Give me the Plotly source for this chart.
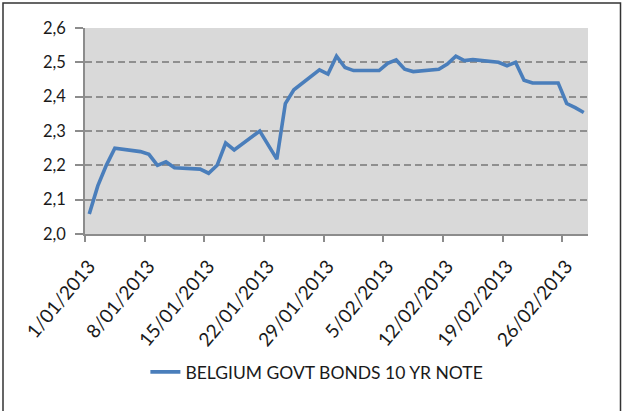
import pandas as pd
import plotly.graph_objects as go

# Daily closing yield, trading days only
dates = [
    "2013-01-01", "2013-01-02", "2013-01-03", "2013-01-04",
    "2013-01-07", "2013-01-08", "2013-01-09", "2013-01-10", "2013-01-11",
    "2013-01-14", "2013-01-15", "2013-01-16", "2013-01-17", "2013-01-18",
    "2013-01-21", "2013-01-22", "2013-01-23", "2013-01-24", "2013-01-25",
    "2013-01-28", "2013-01-29", "2013-01-30", "2013-01-31", "2013-02-01",
    "2013-02-04", "2013-02-05", "2013-02-06", "2013-02-07", "2013-02-08",
    "2013-02-11", "2013-02-12", "2013-02-13", "2013-02-14", "2013-02-15",
    "2013-02-18", "2013-02-19", "2013-02-20", "2013-02-21", "2013-02-22",
    "2013-02-25", "2013-02-26", "2013-02-27", "2013-02-28",
]
yields = [
    2.058, 2.14, 2.20, 2.25,
    2.24, 2.232, 2.20, 2.21, 2.193,
    2.189, 2.177, 2.20, 2.265, 2.245,
    2.30, 2.26, 2.218, 2.38, 2.42,
    2.478, 2.466, 2.518, 2.485, 2.476,
    2.476, 2.497, 2.507, 2.48, 2.473,
    2.48, 2.495, 2.518, 2.505, 2.508,
    2.50, 2.49, 2.50, 2.448, 2.44,
    2.44, 2.38, 2.368, 2.354,
]
series_name = "BELGIUM GOVT BONDS 10 YR NOTE"

tick_dates = pd.date_range("2013-01-01", "2013-02-26", freq="7D")
tick_labels = [f"{d.day}/{d.month:02d}/{d.year}" for d in tick_dates]
y_ticks = [2.0, 2.1, 2.2, 2.3, 2.4, 2.5, 2.6]

# each day occupies a slot; values sit in the middle of their day
x_vals = pd.to_datetime(dates) + pd.Timedelta(hours=12)

fig = go.Figure()
fig.add_trace(go.Scatter(
    x=x_vals, y=yields, mode="lines", name=series_name,
    line=dict(color="#4A7EBB", width=3.6),
    showlegend=True,
))

family = "Lato, Open Sans, sans-serif"
ink = "#1a1a1a"

fig.update_layout(
    width=622, height=411,
    margin=dict(l=85, r=34, t=28, b=177),
    paper_bgcolor="white",
    plot_bgcolor="#d9d9d9",
    separators=", ",
    font=dict(family=family, size=16, color=ink),
    showlegend=True,
    legend=dict(
        orientation="h", x=0.461, y=-0.67, xanchor="center", yanchor="middle",
        font=dict(family=family, size=17.5, color=ink),
        bgcolor="rgba(0,0,0,0)",
    ),
    xaxis=dict(
        type="date",
        range=["2013-01-01", "2013-03-01"],
        tickvals=tick_dates, ticktext=tick_labels,
        tickangle=-50,
        ticklabelstandoff=6, ticklabelshift=4,
        showgrid=False, zeroline=False,
        showline=True, linecolor="#8c8c8c", linewidth=1.5,
        ticks="outside", ticklen=6, tickcolor="#8c8c8c", tickwidth=1.5,
        tickfont=dict(family=family, size=19, color=ink),
    ),
    yaxis=dict(
        range=[2.0, 2.6],
        tickvals=y_ticks, tickformat=".1f",
        ticklabelstandoff=6,
        showgrid=True, gridcolor="#8f8f8f", gridwidth=1.5, griddash="7px,4px",
        zeroline=False,
        showline=True, linecolor="#8c8c8c", linewidth=1.5,
        ticks="outside", ticklen=8, tickcolor="#8c8c8c", tickwidth=1.5,
        tickfont=dict(family=family, size=16.5, color=ink),
    ),
    shapes=[dict(
        type="rect", xref="paper", yref="paper",
        x0=(3 - 85) / 503, x1=(620.5 - 85) / 503,
        y0=(234 - 420) / 206, y1=(234 - 3) / 206,
        line=dict(color="#333333", width=1.5), fillcolor="rgba(0,0,0,0)",
        layer="below",
    )],
)

fig.write_html("out.html")
